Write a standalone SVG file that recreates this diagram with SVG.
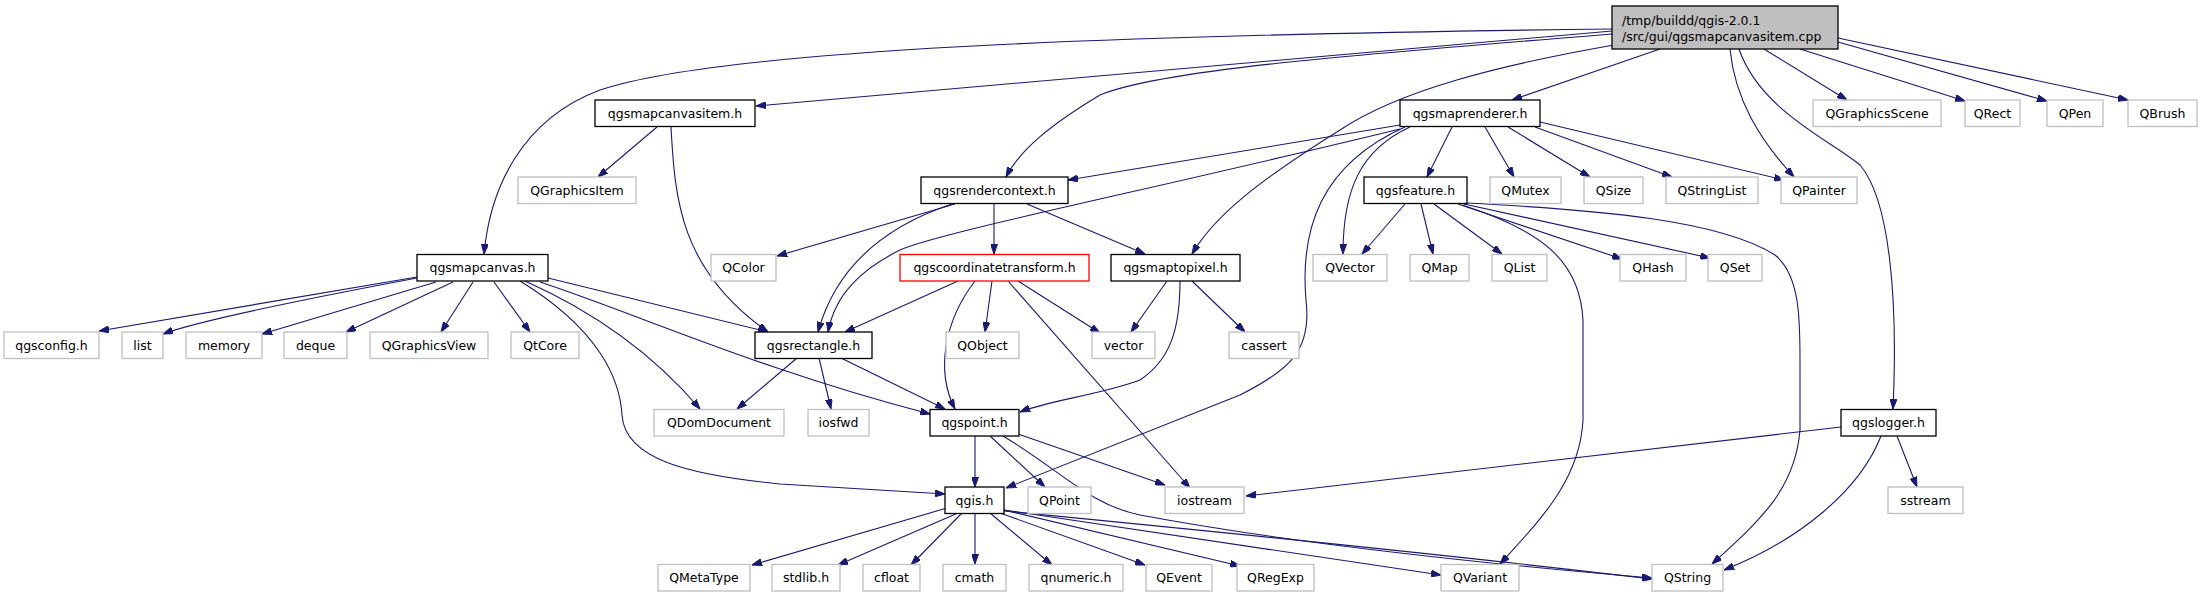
<svg xmlns="http://www.w3.org/2000/svg" width="2203" height="597" viewBox="0 0 2203 597">
<style>
text{font-family:"DejaVu Sans","Liberation Sans",sans-serif;font-size:12.5px;text-anchor:middle;fill:#000}
.n rect{fill:#fff;stroke:#000;stroke-width:1.3}
.g rect{fill:#fff;stroke:#bfbfbf;stroke-width:1.3}
.r rect{fill:#fff;stroke:#ff0000;stroke-width:1.3}
.root rect{fill:#bfbfbf;stroke:#000;stroke-width:1.3}
.root text{text-anchor:start}
#edges path{fill:none;stroke:#191970;stroke-width:1.1;marker-end:url(#a)}
</style>
<defs>
<marker id="a" viewBox="0 0 10 7" refX="10" refY="3.5" markerWidth="10" markerHeight="7" markerUnits="userSpaceOnUse" orient="auto">
<path d="M0,0 L10,3.5 L0,7 z" fill="#191970" stroke="#191970"/>
</marker>
</defs>
<rect width="2203" height="597" fill="#fff"/>
<g id="edges">
<path d="M1612,29 C1100,35 720,50 600,90 C520,120 490,190 484,254"/>
<path d="M1612,31 L756,106"/>
<path d="M1612,34 C1350,55 1160,70 1100,95 C1050,125 1020,150 1006,177"/>
<path d="M1614,45 C1500,65 1400,90 1340,130 C1260,180 1215,215 1192,254"/>
<path d="M1660,49 L1512,100"/>
<path d="M1730,49 C1735,100 1760,140 1794,177"/>
<path d="M1739,49 C1760,110 1830,140 1860,165 C1890,200 1898,300 1893,409"/>
<path d="M1764,49 L1847,100"/>
<path d="M1800,49 L1965,101"/>
<path d="M1838,42 L2047,101"/>
<path d="M1838,38 L2128,100"/>
<path d="M657,127 L598,177"/>
<path d="M671,127 C675,200 680,270 768,332"/>
<path d="M1400,125 L1068,180"/>
<path d="M1400,129 C1150,190 940,232 900,250 C860,270 835,295 828,332"/>
<path d="M1410,127 C1360,150 1343,190 1343,254"/>
<path d="M1405,127 C1320,165 1300,230 1306,300 C1312,350 1290,370 1240,395 L1006,488"/>
<path d="M1452,127 L1427,177"/>
<path d="M1485,127 L1514,177"/>
<path d="M1508,127 L1590,177"/>
<path d="M1535,127 L1672,177"/>
<path d="M1540,122 L1784,180"/>
<path d="M955,204 L777,256"/>
<path d="M994,204 L994,254"/>
<path d="M1027,204 L1145,254"/>
<path d="M952,204 C880,228 835,270 818,332"/>
<path d="M958,281 L845,332"/>
<path d="M992,281 L985,332"/>
<path d="M1018,281 L1100,333"/>
<path d="M975,281 C945,320 935,370 955,409"/>
<path d="M1008,281 L1190,488"/>
<path d="M1167,281 L1131,332"/>
<path d="M1192,281 L1245,332"/>
<path d="M1180,281 C1180,330 1170,360 1140,380 C1100,395 1050,400 1020,412"/>
<path d="M417,277 L99,331"/>
<path d="M417,278 C300,300 200,320 163,334"/>
<path d="M436,282 L262,334"/>
<path d="M453,282 L346,332"/>
<path d="M473,282 L441,332"/>
<path d="M494,282 L530,332"/>
<path d="M525,281 C590,310 650,350 700,409"/>
<path d="M520,281 C600,330 620,380 622,415 C625,460 690,475 780,484 L945,494"/>
<path d="M548,278 L768,332"/>
<path d="M540,282 C640,315 760,370 930,414"/>
<path d="M797,358 L737,409"/>
<path d="M819,358 L831,409"/>
<path d="M841,358 L945,409"/>
<path d="M975,436 L975,487"/>
<path d="M990,436 L1045,487"/>
<path d="M1018,434 L1165,485"/>
<path d="M1003,436 C1060,470 1090,505 1140,515 C1300,545 1500,565 1652,578"/>
<path d="M947,508 L752,565"/>
<path d="M958,513 L838,565"/>
<path d="M962,513 L911,565"/>
<path d="M975,513 L975,564"/>
<path d="M990,513 L1052,565"/>
<path d="M1000,513 L1145,565"/>
<path d="M1004,510 L1240,566"/>
<path d="M1004,510 L1441,575"/>
<path d="M1004,511 C1200,530 1450,555 1652,579"/>
<path d="M1405,204 L1362,254"/>
<path d="M1421,204 L1433,254"/>
<path d="M1434,204 L1502,254"/>
<path d="M1458,204 L1622,259"/>
<path d="M1464,204 L1710,258"/>
<path d="M1462,205 C1540,230 1580,260 1583,320 L1583,420 C1580,480 1540,520 1500,564"/>
<path d="M1467,203 C1600,210 1720,220 1775,255 C1800,275 1800,320 1800,360 L1800,430 C1795,490 1760,520 1712,564"/>
<path d="M1841,427 L1246,496"/>
<path d="M1881,436 C1860,490 1800,540 1724,570"/>
<path d="M1897,436 L1917,487"/>
</g>
<g id="root" class="root"><rect x="1612" y="6" width="226" height="43"/><text x="1622" y="24.5">/tmp/buildd/qgis-2.0.1</text><text x="1622" y="40.5">/src/gui/qgsmapcanvasitem.cpp</text></g>
<g id="n_mci" class="n"><rect x="595" y="100" width="160" height="26.5"/><text x="675" y="117.5">qgsmapcanvasitem.h</text></g>
<g id="n_mr" class="n"><rect x="1400" y="100" width="140" height="26.5"/><text x="1470" y="117.5">qgsmaprenderer.h</text></g>
<g id="n_qgscene" class="g"><rect x="1813" y="100" width="128" height="26.5"/><text x="1877" y="117.5">QGraphicsScene</text></g>
<g id="n_qrect" class="g"><rect x="1965" y="100" width="55" height="26.5"/><text x="1992.5" y="117.5">QRect</text></g>
<g id="n_qpen" class="g"><rect x="2047" y="100" width="56" height="26.5"/><text x="2075" y="117.5">QPen</text></g>
<g id="n_qbrush" class="g"><rect x="2128" y="100" width="69" height="26.5"/><text x="2162.5" y="117.5">QBrush</text></g>
<g id="n_qgitem" class="g"><rect x="518" y="177" width="118" height="26.5"/><text x="577" y="194.5">QGraphicsItem</text></g>
<g id="n_rc" class="n"><rect x="921" y="177" width="147" height="26.5"/><text x="994.5" y="194.5">qgsrendercontext.h</text></g>
<g id="n_feat" class="n"><rect x="1364" y="177" width="103" height="26.5"/><text x="1415.5" y="194.5">qgsfeature.h</text></g>
<g id="n_qmutex" class="g"><rect x="1490" y="177" width="71" height="26.5"/><text x="1525.5" y="194.5">QMutex</text></g>
<g id="n_qsize" class="g"><rect x="1584" y="177" width="59" height="26.5"/><text x="1613.5" y="194.5">QSize</text></g>
<g id="n_qsl" class="g"><rect x="1666" y="177" width="92" height="26.5"/><text x="1712" y="194.5">QStringList</text></g>
<g id="n_qpainter" class="g"><rect x="1781" y="177" width="76" height="26.5"/><text x="1819" y="194.5">QPainter</text></g>
<g id="n_mc" class="n"><rect x="417" y="254.5" width="131" height="26.5"/><text x="482.5" y="272">qgsmapcanvas.h</text></g>
<g id="n_qcolor" class="g"><rect x="711" y="254.5" width="65" height="26.5"/><text x="743.5" y="272">QColor</text></g>
<g id="n_ct" class="r"><rect x="900" y="254.5" width="189" height="26.5"/><text x="994.5" y="272">qgscoordinatetransform.h</text></g>
<g id="n_m2p" class="n"><rect x="1111" y="254.5" width="129" height="26.5"/><text x="1175.5" y="272">qgsmaptopixel.h</text></g>
<g id="n_qvector" class="g"><rect x="1313" y="254.5" width="74" height="26.5"/><text x="1350" y="272">QVector</text></g>
<g id="n_qmap" class="g"><rect x="1410" y="254.5" width="59" height="26.5"/><text x="1439.5" y="272">QMap</text></g>
<g id="n_qlist" class="g"><rect x="1492" y="254.5" width="55" height="26.5"/><text x="1519.5" y="272">QList</text></g>
<g id="n_qhash" class="g"><rect x="1620" y="254.5" width="66" height="26.5"/><text x="1653" y="272">QHash</text></g>
<g id="n_qset" class="g"><rect x="1708" y="254.5" width="54" height="26.5"/><text x="1735" y="272">QSet</text></g>
<g id="n_qgsconfig" class="g"><rect x="4" y="332" width="95" height="26.5"/><text x="51.5" y="349.5">qgsconfig.h</text></g>
<g id="n_list" class="g"><rect x="122" y="332" width="41" height="26.5"/><text x="142.5" y="349.5">list</text></g>
<g id="n_memory" class="g"><rect x="186" y="332" width="76" height="26.5"/><text x="224" y="349.5">memory</text></g>
<g id="n_deque" class="g"><rect x="284" y="332" width="63" height="26.5"/><text x="315.5" y="349.5">deque</text></g>
<g id="n_qgview" class="g"><rect x="370" y="332" width="118" height="26.5"/><text x="429" y="349.5">QGraphicsView</text></g>
<g id="n_qtcore" class="g"><rect x="511" y="332" width="68" height="26.5"/><text x="545" y="349.5">QtCore</text></g>
<g id="n_rect" class="n"><rect x="755" y="332" width="117" height="26.5"/><text x="813.5" y="349.5">qgsrectangle.h</text></g>
<g id="n_qobject" class="g"><rect x="946" y="332" width="73" height="26.5"/><text x="982.5" y="349.5">QObject</text></g>
<g id="n_vector" class="g"><rect x="1092" y="332" width="63" height="26.5"/><text x="1123.5" y="349.5">vector</text></g>
<g id="n_cassert" class="g"><rect x="1229" y="332" width="70" height="26.5"/><text x="1264" y="349.5">cassert</text></g>
<g id="n_qdom" class="g"><rect x="654" y="409.5" width="130" height="26.5"/><text x="719" y="427">QDomDocument</text></g>
<g id="n_iosfwd" class="g"><rect x="808" y="409.5" width="61" height="26.5"/><text x="838.5" y="427">iosfwd</text></g>
<g id="n_pt" class="n"><rect x="930" y="409.5" width="89" height="26.5"/><text x="974.5" y="427">qgspoint.h</text></g>
<g id="n_logger" class="n"><rect x="1841" y="409.5" width="95" height="26.5"/><text x="1888.5" y="427">qgslogger.h</text></g>
<g id="n_qgis" class="n"><rect x="945" y="487" width="59" height="26.5"/><text x="974.5" y="504.5">qgis.h</text></g>
<g id="n_qpoint" class="g"><rect x="1028" y="487" width="63" height="26.5"/><text x="1059.5" y="504.5">QPoint</text></g>
<g id="n_iostream" class="g"><rect x="1165" y="487" width="79" height="26.5"/><text x="1204.5" y="504.5">iostream</text></g>
<g id="n_sstream" class="g"><rect x="1888" y="487" width="75" height="26.5"/><text x="1925.5" y="504.5">sstream</text></g>
<g id="n_qmeta" class="g"><rect x="658" y="564.5" width="92" height="26.5"/><text x="704" y="582">QMetaType</text></g>
<g id="n_stdlib" class="g"><rect x="772" y="564.5" width="68" height="26.5"/><text x="806" y="582">stdlib.h</text></g>
<g id="n_cfloat" class="g"><rect x="863" y="564.5" width="57" height="26.5"/><text x="891.5" y="582">cfloat</text></g>
<g id="n_cmath" class="g"><rect x="943" y="564.5" width="63" height="26.5"/><text x="974.5" y="582">cmath</text></g>
<g id="n_qnumeric" class="g"><rect x="1029" y="564.5" width="94" height="26.5"/><text x="1076" y="582">qnumeric.h</text></g>
<g id="n_qevent" class="g"><rect x="1146" y="564.5" width="66" height="26.5"/><text x="1179" y="582">QEvent</text></g>
<g id="n_qregexp" class="g"><rect x="1237" y="564.5" width="77" height="26.5"/><text x="1275.5" y="582">QRegExp</text></g>
<g id="n_qvariant" class="g"><rect x="1441" y="564.5" width="78" height="26.5"/><text x="1480" y="582">QVariant</text></g>
<g id="n_qstring" class="g"><rect x="1652" y="564.5" width="71" height="26.5"/><text x="1687.5" y="582">QString</text></g>
</svg>
